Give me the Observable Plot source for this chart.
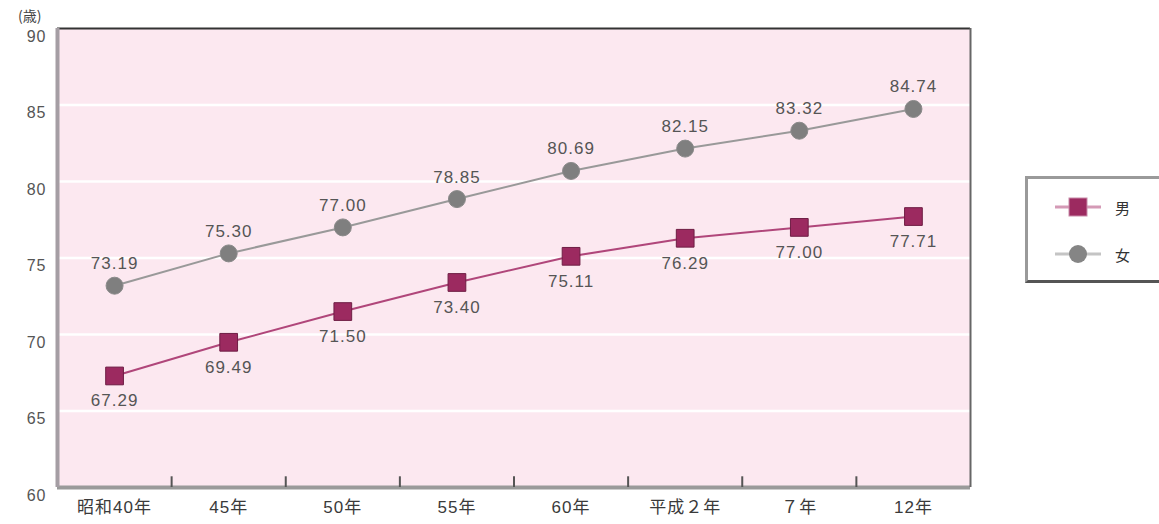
<!DOCTYPE html>
<html>
<head>
<meta charset="utf-8">
<script src="https://cdn.jsdelivr.net/npm/d3@7"></script>
<script src="https://cdn.jsdelivr.net/npm/@observablehq/plot@0.6"></script>
<style>
  html, body { margin: 0; padding: 0; background: #fff; }
  #wrap { position: relative; width: 1159px; height: 524px; font-family: "Liberation Sans", "Noto Sans CJK JP", sans-serif; }
  #unit { position: absolute; left: 18px; top: 5px; font-size: 14px; color: #444; font-family: "Noto Sans CJK JP", sans-serif; }
  #legend { position: absolute; left: 1025px; top: 176px; width: 140px; height: 107px; box-sizing: border-box;
    border-top: 3px solid #9a9a9a; border-left: 3px solid #9a9a9a; border-bottom: 3px solid #555; background: #fff; }
  .lg { position: absolute; left: 25px; display: flex; align-items: center; font-family: "Noto Sans CJK JP", sans-serif; font-size: 15px; color: #333; }
  #chart svg text { letter-spacing: 1px; }
</style>
</head>
<body>
<div id="wrap">
  <div id="chart"></div>
  <div id="unit">(歳)</div>
  <div id="legend">
    <div class="lg" style="top:17px"><svg width="50" height="22"><line x1="2" y1="11" x2="48" y2="11" stroke="#d49ab6" stroke-width="3"/><rect x="16" y="2" width="18" height="18" fill="#9c2a60" stroke="#c88aa8" stroke-width="1"/></svg><span style="margin-left:12px">男</span></div>
    <div class="lg" style="top:64px"><svg width="50" height="22"><line x1="2" y1="11" x2="48" y2="11" stroke="#c4c4c4" stroke-width="3"/><circle cx="25" cy="11" r="9" fill="#858585"/></svg><span style="margin-left:12px">女</span></div>
  </div>
</div>
<script>
const categories = ["昭和40年", "45年", "50年", "55年", "60年", "平成２年", "７年", "12年"];
const male = [67.29, 69.49, 71.50, 73.40, 75.11, 76.29, 77.00, 77.71];
const female = [73.19, 75.30, 77.00, 78.85, 80.69, 82.15, 83.32, 84.74];
const yTicks = [60, 65, 70, 75, 80, 85, 90];
const gridValues = [65, 70, 75, 80, 85];

const idx = d3.range(categories.length);
const maleData = idx.map(i => ({i, v: male[i]}));
const femaleData = idx.map(i => ({i, v: female[i]}));
const boundaries = d3.range(categories.length - 1).map(i => i + 0.5);

const labelStyle = {fontSize: 17, fill: "#555", fontFamily: "Liberation Sans, sans-serif"};

const chart = Plot.plot({
  width: 1159,
  height: 524,
  marginLeft: 57,
  marginRight: 189,
  marginTop: 28,
  marginBottom: 37,
  style: {fontFamily: "Liberation Sans, 'Noto Sans CJK JP', sans-serif", background: "transparent"},
  x: {type: "linear", domain: [-0.5, categories.length - 0.5], label: null},
  y: {domain: [60, 90], label: null},
  marks: [
    Plot.frame({fill: "#fce8f0", stroke: "none"}),
    Plot.ruleY(gridValues, {stroke: "#ffffff", strokeWidth: 2.5}),
    Plot.ruleY([90], {stroke: "#333", strokeWidth: 2}),
    Plot.ruleY([60], {stroke: "#9a9a9a", strokeWidth: 4}),
    Plot.ruleX([-0.5], {stroke: "#a59ea4", strokeWidth: 4}),
    Plot.ruleX([categories.length - 0.5], {stroke: "#666", strokeWidth: 2}),
    Plot.ruleX(boundaries, {x: d => d, y1: 60, y2: 60.7, stroke: "#555", strokeWidth: 2}),
    Plot.axisY({ticks: yTicks, tickSize: 0, tickPadding: 11, dy: 8, fontSize: 16, color: "#555", label: null}),
    Plot.axisX({ticks: idx, tickFormat: i => categories[i], tickSize: 0, tickPadding: 13, fontSize: 17, color: "#3a3a3a", label: null}),
    Plot.line(femaleData, {x: "i", y: "v", stroke: "#999", strokeWidth: 2}),
    Plot.line(maleData, {x: "i", y: "v", stroke: "#b0467a", strokeWidth: 2}),
    Plot.dot(femaleData, {x: "i", y: "v", r: 8.5, fill: "#7f7f7f", stroke: "#8a8a8a", strokeWidth: 1}),
    Plot.dot(maleData, {x: "i", y: "v", symbol: "square", r: 10, fill: "#9c2a60", stroke: "#6e1d44", strokeWidth: 1}),
    Plot.text(femaleData, {x: "i", y: "v", text: d => d.v.toFixed(2), dy: -22, ...labelStyle}),
    Plot.text(maleData, {x: "i", y: "v", text: d => d.v.toFixed(2), dy: 25, ...labelStyle})
  ]
});
document.getElementById("chart").appendChild(chart);
</script>
</body>
</html>
